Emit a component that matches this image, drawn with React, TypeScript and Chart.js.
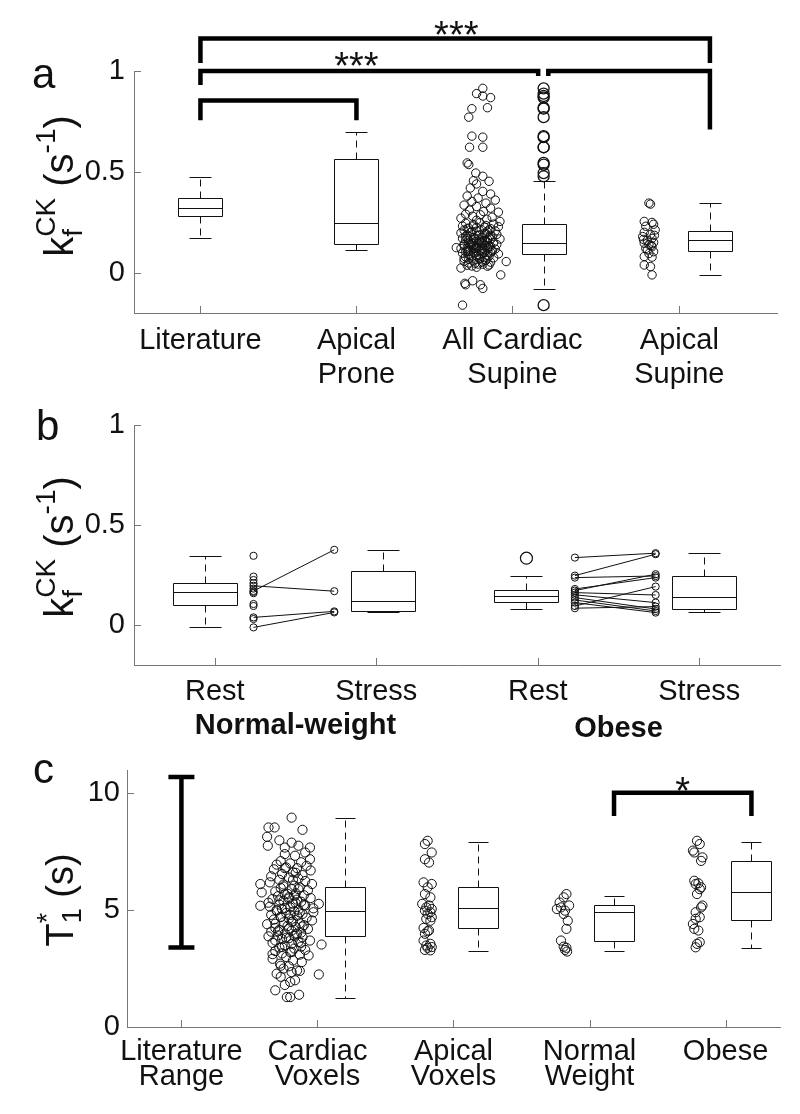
import React, { useEffect, useRef } from "react";
import { Chart, registerables } from "chart.js";

Chart.register(...registerables);

const FONT = "'Liberation Sans', Arial, Helvetica, sans-serif";
const INK = "#111111";
const AXIS = "#777777";

// ================= Panel a =================
const aXTicks = [1, 2, 3, 4.07];
const aXLabels = [["Literature"], ["Apical", "Prone"], ["All Cardiac", "Supine"], ["Apical", "Supine"]];
const aYTicks = [0, 0.5, 1];
const aYLabels = ["0", "0.5", "1"];
// box stats: [lower whisker, Q1, median, Q3, upper whisker]
const aLiteratureBox = [0.174, 0.282, 0.322, 0.368, 0.473];
const aApicalProneBox = [0.111, 0.143, 0.247, 0.562, 0.7];
const aAllCardiacBox = [-0.08, 0.093, 0.146, 0.242, 0.456];
const aApicalSupineBox = [-0.011, 0.108, 0.163, 0.209, 0.345];
const aBoxPositions = [1, 2, 3.2, 4.266];
const aScatterCenters = [2.77, 3.875];
// [jitter, value]
const aAllCardiacPoints: [number, number][] = [
  [0.04, 0.914], [0, 0.888], [0.04, 0.876], [0.09, 0.868], [0.07, 0.818], [-0.03, 0.813], [-0.05, 0.771],
  [-0.03, 0.677], [0.04, 0.672], [-0.045, 0.622], [0.04, 0.622], [-0.06, 0.544], [-0.05, 0.536], [-0.005, 0.494], [0.04, 0.478],
  [-0.02, 0.456], [0.08, 0.453], [0, 0.44], [-0.04, 0.42], [0.04, 0.403], [0.09, 0.39], [-0.06, 0.38], [0.01, 0.37],
  [0.12, 0.36], [-0.03, 0.353], [0.06, 0.345], [-0.08, 0.335], [0, 0.328], [0.09, 0.32], [-0.045, 0.31], [0.045, 0.303],
  [0.14, 0.3], [-0.07, 0.29], [0.025, 0.287], [-0.025, 0.28], [0.1, 0.275], [-0.1, 0.27], [0.065, 0.265], [0, 0.26], [0.15, 0.254],
  [0.02, 0.248], [-0.07, 0.245], [0.11, 0.241], [-0.02, 0.238], [0.06, 0.234], [-0.09, 0.231], [0.14, 0.228], [0, 0.224],
  [-0.05, 0.221], [0.09, 0.218], [0.03, 0.214], [-0.08, 0.211], [0.12, 0.207], [-0.03, 0.204], [0.07, 0.201], [-0.1, 0.197],
  [0.05, 0.194], [0.13, 0.19], [-0.06, 0.187], [0.01, 0.184], [0.1, 0.18], [-0.04, 0.177], [0.08, 0.173], [-0.09, 0.17],
  [0.15, 0.167], [0.02, 0.163], [-0.07, 0.16], [0.06, 0.157], [-0.01, 0.153], [0.11, 0.15], [-0.05, 0.147], [0.04, 0.143],
  [0.13, 0.14], [-0.08, 0.137], [0, 0.134], [0.09, 0.13], [-0.03, 0.127], [0.07, 0.123], [-0.1, 0.12], [0.12, 0.117],
  [0.03, 0.113], [-0.06, 0.11], [0.1, 0.107], [-0.02, 0.103], [0.05, 0.1], [-0.09, 0.097], [0.14, 0.093], [0.01, 0.09],
  [-0.04, 0.086], [0.08, 0.082], [-0.07, 0.078], [0.11, 0.074], [0.02, 0.07], [-0.05, 0.066], [0.06, 0.061], [-0.08, 0.057],
  [0.09, 0.052], [-0.01, 0.047], [0.04, 0.042], [-0.06, 0.037], [0.07, 0.032], [0, 0.027],
  [0.03, 0.15], [-0.04, 0.14], [0.08, 0.13], [-0.01, 0.12], [0.05, 0.16], [-0.06, 0.17], [0.1, 0.11], [0, 0.125],
  [0.06, 0.135], [-0.03, 0.145], [0.02, 0.155], [0.07, 0.165], [-0.05, 0.105], [0.04, 0.095], [-0.02, 0.175], [0.09, 0.185],
  [-0.02, 0.232], [0.05, 0.226], [-0.06, 0.219], [0.08, 0.213], [0, 0.206], [-0.04, 0.199], [0.06, 0.193], [0.02, 0.186],
  [-0.07, 0.181], [0.04, 0.176], [-0.01, 0.171], [0.09, 0.166], [-0.05, 0.161], [0.03, 0.156], [0.07, 0.152], [-0.03, 0.148],
  [0.01, 0.144], [-0.08, 0.141], [0.05, 0.138], [-0.02, 0.133], [0.08, 0.129], [0, 0.126], [-0.06, 0.122], [0.04, 0.118],
  [-0.04, 0.114], [0.06, 0.111], [0.02, 0.108], [-0.07, 0.104], [0.09, 0.101], [-0.01, 0.098], [0.03, 0.094], [-0.05, 0.091],
  [0.07, 0.087], [0, 0.083], [-0.03, 0.079], [0.05, 0.075], [-0.08, 0.071], [0.02, 0.067], [0.06, 0.063], [-0.02, 0.058],
  [0.04, 0.053], [-0.05, 0.048], [0.01, 0.043], [0.08, 0.038], [-0.03, 0.033],
  [-0.13, 0.124], [0.19, 0.055], [0.155, -0.011], [-0.1, 0.023], [-0.075, -0.053], [-0.07, -0.06], [0.025, -0.06],
  [0.04, -0.078], [-0.025, -0.04], [-0.09, -0.161],
];
const aApicalSupinePoints: [number, number][] = [
  [0, 0.345], [0.01, 0.34], [-0.03, 0.254], [0.02, 0.249], [0.03, 0.24], [-0.02, 0.23], [0.04, 0.212], [-0.03, 0.2],
  [0.01, 0.19], [-0.04, 0.179], [0.02, 0.17], [-0.01, 0.16], [0.03, 0.15], [-0.03, 0.146], [0, 0.14], [0.02, 0.129],
  [-0.02, 0.12], [-0.01, 0.113], [0.03, 0.104], [0, 0.095], [-0.03, 0.08], [0.02, 0.077], [-0.03, 0.038], [0.01, 0.03],
  [0.02, -0.011], [0.035, 0.185], [-0.035, 0.165], [0.015, 0.135],
];

// ================= Panel b =================
const bXTicks = [1, 2, 3, 4];
const bXLabels = ["Rest", "Stress", "Rest", "Stress"];
const bGroupLabels = ["Normal-weight", "Obese"];
const bGroupPositions = [1.5, 3.5];
const bYTicks = [0, 0.5, 1];
const bYLabels = ["0", "0.5", "1"];
const bNwRestBox = [-0.012, 0.102, 0.167, 0.212, 0.346];
const bNwStressBox = [0.065, 0.07, 0.12, 0.272, 0.376];
const bObRestBox = [0.08, 0.115, 0.145, 0.177, 0.247];
const bObRestOutliers = [0.334];
const bObStressBox = [0.064, 0.079, 0.142, 0.247, 0.359];
const bBoxPositions = [0.94, 2.04, 2.93, 4.03];
const bPointPositions = [1.24, 1.74, 3.23, 3.73];
const bNwRestSingles = [0.346, 0.242, 0.225, 0.209, 0.182, 0.159, 0.165, 0.105, 0.095, 0.03];
const bNwRestPaired = [0.17, 0.196, 0.038, -0.012];
const bNwStressPaired = [0.376, 0.169, 0.068, 0.063];
const bObRestPaired = [0.337, 0.247, 0.237, 0.18, 0.172, 0.162, 0.151, 0.137, 0.125, 0.112, 0.095, 0.084];
const bObStressPaired = [0.359, 0.354, 0.245, 0.237, 0.254, 0.15, 0.112, 0.08, 0.07, 0.062, 0.192, 0.092];

// ================= Panel c =================
const cXTicks = [1, 2, 3, 4, 5];
const cXLabels = [["Literature", "Range"], ["Cardiac", "Voxels"], ["Apical", "Voxels"], ["Normal", "Weight"], ["Obese"]];
const cYTicks = [0, 5, 10];
const cYLabels = ["0", "5", "10"];
const cLiteratureRange = [3.4, 10.7];
const cCardiacBox = [1.22, 3.9, 4.98, 5.98, 8.94];
const cApicalBox = [3.26, 4.24, 5.1, 6.0, 7.93];
const cNormalBox = [3.26, 3.66, 4.94, 5.21, 5.62];
const cObeseBox = [3.37, 4.6, 5.76, 7.1, 7.93];
const cBoxPositions = [2.2, 3.18, 4.18, 5.19];
const cScatterCenters = [1.79, 2.81, 3.81, 4.79];
const cCardiacPoints: [number, number][] = [
  [0.02, 8.96], [-0.15, 8.54], [-0.105, 8.54], [0.1, 8.44], [-0.16, 8.14], [-0.07, 7.99], [0.02, 7.89], [-0.155, 7.76],
  [0.07, 7.76], [-0.03, 7.68], [0.155, 7.68], [0.12, 7.47], [-0.03, 7.4], [0.045, 7.33], [0.155, 7.18], [-0.06, 7.1],
  [0.09, 7.05], [0.01, 7.0],
  [-0.09, 6.95], [0.13, 6.9], [-0.02, 6.83], [0.06, 6.8], [-0.11, 6.75], [0.16, 6.7], [0.03, 6.62], [-0.05, 6.55],
  [0.1, 6.5], [-0.13, 6.45], [0, 6.4], [0.07, 6.35], [-0.07, 6.3], [0.12, 6.25], [-0.14, 6.19], [-0.21, 6.12],
  [0.17, 6.12], [0.04, 6.05], [-0.04, 6.02],
  [0.08, 5.98], [-0.06, 5.95], [0.02, 5.9], [0.14, 5.85], [-0.1, 5.8], [-0.2, 5.76], [0.05, 5.72], [-0.03, 5.68],
  [0.11, 5.64], [-0.08, 5.6], [0, 5.56], [0.16, 5.52], [-0.12, 5.48], [0.06, 5.45], [-0.04, 5.4], [0.09, 5.36],
  [-0.15, 5.32], [0.03, 5.28], [0.22, 5.27], [-0.07, 5.24], [0.12, 5.2], [-0.21, 5.19], [-0.14, 5.15], [0.01, 5.12],
  [0.18, 5.08], [-0.05, 5.05], [0.07, 5.02],
  [-0.09, 4.98], [0.04, 4.95], [0.18, 4.91], [-0.02, 4.88], [0.1, 4.84], [-0.13, 4.8], [0.06, 4.76], [-0.06, 4.72],
  [0.13, 4.68], [0, 4.64], [-0.11, 4.6], [0.17, 4.56], [0.03, 4.52], [-0.04, 4.48], [0.08, 4.44], [-0.16, 4.4],
  [0.11, 4.36], [-0.01, 4.32], [0.05, 4.28], [-0.1, 4.24], [0.14, 4.2], [-0.07, 4.16], [0.02, 4.12], [-0.13, 4.08],
  [0.09, 4.04], [-0.03, 4.0],
  [0.05, 3.96], [-0.08, 3.92], [-0.15, 3.88], [0.1, 3.84], [0, 3.8], [-0.05, 3.76], [-0.1, 3.7], [0.155, 3.7],
  [0.07, 3.64], [-0.12, 3.6], [0.02, 3.56], [0.24, 3.53], [-0.03, 3.48], [0.09, 3.44], [-0.07, 3.4], [0.04, 3.36],
  [0.12, 3.3], [-0.1, 3.25], [0.01, 3.2], [-0.05, 3.15], [0.08, 3.1], [0.145, 3.06], [-0.02, 3.0],
  [-0.12, 2.92], [0.03, 2.85], [0.095, 2.78], [-0.065, 2.71], [0, 2.6], [-0.04, 2.5], [0.06, 2.42], [0.02, 2.35],
  [-0.09, 2.28], [0.22, 2.25], [-0.06, 2.15], [0.045, 2.0], [0.01, 1.93], [-0.03, 1.8], [-0.1, 1.57], [0.075, 1.38],
  [-0.015, 1.28], [0.01, 1.28],
  [0, 5.5], [0.05, 5.3], [-0.03, 5.1], [0.08, 4.9], [-0.06, 4.7], [0.02, 4.5], [0.1, 4.3], [-0.08, 4.1],
  [0.04, 3.9], [-0.01, 5.7], [0.07, 5.9], [-0.04, 6.1], [0.03, 6.3], [-0.09, 5.0], [0.06, 4.0], [-0.02, 3.82],
  [0.09, 3.6], [-0.05, 3.42], [0.01, 4.8], [0.04, 5.62], [-0.07, 5.42], [0.11, 5.22], [-0.1, 4.42], [0, 4.22],
  [0.05, 6.6], [-0.03, 6.8], [0.02, 3.22], [-0.06, 2.62], [0.08, 2.4], [-0.12, 3.12],
];
const cApicalPoints: [number, number][] = [
  [0, 7.97], [-0.02, 7.83], [0.03, 7.47], [-0.02, 7.18], [0.01, 7.04], [-0.03, 6.19], [0.03, 6.12], [0, 5.98],
  [-0.02, 5.69], [0.02, 5.55], [-0.04, 5.27], [0.01, 5.2], [-0.01, 5.12], [0.03, 5.05], [-0.02, 4.98], [0.02, 4.91],
  [0, 4.84], [0.03, 4.7], [-0.01, 4.63], [0.02, 4.55], [-0.03, 4.24], [0.01, 4.13], [0, 4.1], [-0.02, 3.99],
  [-0.03, 3.7], [0.02, 3.56], [-0.01, 3.49], [0.03, 3.42], [0, 3.39], [-0.02, 3.3], [0.02, 3.28],
];
const cNormalPoints: [number, number][] = [
  [0.02, 5.69], [0, 5.55], [-0.03, 5.33], [0.04, 5.2], [-0.02, 5.12], [-0.05, 5.05], [0.01, 4.98], [0, 4.84],
  [0.03, 4.55], [0.02, 4.2], [-0.02, 3.7], [0, 3.44], [0.02, 3.39], [0.01, 3.3], [0.025, 3.23],
];
const cObesePoints: [number, number][] = [
  [0, 7.97], [0.02, 7.83], [-0.03, 7.55], [-0.02, 7.47], [0.04, 7.26], [0.03, 7.11], [-0.02, 6.26], [0.01, 6.15],
  [-0.01, 6.12], [0.03, 5.98], [0.02, 5.9], [0, 5.69], [0.04, 5.2], [0.03, 5.12], [-0.01, 4.91], [0.02, 4.7],
  [-0.01, 4.63], [-0.03, 4.41], [-0.02, 4.2], [0.01, 4.13], [0.02, 3.63], [0, 3.56], [-0.01, 3.41],
];

// ================= helpers =================
type Part = { n?: string; sub?: string; sup?: string };

function drawVerticalLabel(ctx: CanvasRenderingContext2D, baseX: number, centerY: number, size: number, parts: Part[]) {
  const small = Math.round(size * 0.7);
  const fN = `${size}px ${FONT}`;
  const fS = `${small}px ${FONT}`;
  const widths = parts.map((p) => {
    if (p.n !== undefined) {
      ctx.font = fN;
      return ctx.measureText(p.n).width;
    }
    ctx.font = fS;
    return Math.max(p.sub ? ctx.measureText(p.sub).width : 0, p.sup ? ctx.measureText(p.sup).width : 0);
  });
  const total = widths.reduce((a, b) => a + b, 0);
  ctx.save();
  ctx.translate(baseX, centerY);
  ctx.rotate(-Math.PI / 2);
  ctx.textBaseline = "alphabetic";
  ctx.textAlign = "left";
  ctx.fillStyle = INK;
  let x = -total / 2;
  parts.forEach((p, i) => {
    if (p.n !== undefined) {
      ctx.font = fN;
      ctx.fillText(p.n, x, 0);
    } else {
      ctx.font = fS;
      if (p.sup) ctx.fillText(p.sup, x, -size * 0.45);
      if (p.sub) ctx.fillText(p.sub, x, size * 0.22);
    }
    x += widths[i];
  });
  ctx.restore();
}

function drawCenteredGlyphs(ctx: CanvasRenderingContext2D, text: string, cx: number, cy: number, font: string) {
  ctx.save();
  ctx.font = font;
  ctx.textAlign = "center";
  ctx.textBaseline = "alphabetic";
  ctx.fillStyle = INK;
  const m = ctx.measureText(text);
  const base = cy + (m.actualBoundingBoxAscent - m.actualBoundingBoxDescent) / 2;
  ctx.fillText(text, cx, base);
  ctx.restore();
}

const px = (v: number) => Math.round(v) + 0.5;

function drawBox(ctx: CanvasRenderingContext2D, xs: any, ys: any, xVal: number, s: number[], hw: number) {
  const cx = px(xs.getPixelForValue(xVal));
  const [lo, q1, med, q3, hi] = s.map((v) => px(ys.getPixelForValue(v)));
  ctx.save();
  ctx.strokeStyle = INK;
  ctx.lineWidth = 1;
  ctx.setLineDash([7, 5]);
  ctx.beginPath();
  ctx.moveTo(cx, q3);
  ctx.lineTo(cx, hi);
  ctx.moveTo(cx, q1);
  ctx.lineTo(cx, lo);
  ctx.stroke();
  ctx.setLineDash([]);
  ctx.beginPath();
  ctx.rect(cx - hw, q3, 2 * hw, q1 - q3);
  ctx.moveTo(cx - hw, med);
  ctx.lineTo(cx + hw, med);
  ctx.moveTo(cx - hw / 2, hi);
  ctx.lineTo(cx + hw / 2, hi);
  ctx.moveTo(cx - hw / 2, lo);
  ctx.lineTo(cx + hw / 2, lo);
  ctx.stroke();
  ctx.restore();
}

type Bracket = { x1: number; x2: number; y: number; e1: number; e2: number };
type Stars = { text: string; x: number; y: number; lift: number };

function drawBracket(ctx: CanvasRenderingContext2D, xs: any, ys: any, b: Bracket) {
  ctx.save();
  ctx.strokeStyle = "#000";
  ctx.lineWidth = 4.5;
  ctx.lineJoin = "miter";
  ctx.lineCap = "butt";
  ctx.beginPath();
  ctx.moveTo(xs.getPixelForValue(b.x1), ys.getPixelForValue(b.e1));
  ctx.lineTo(xs.getPixelForValue(b.x1), ys.getPixelForValue(b.y));
  ctx.lineTo(xs.getPixelForValue(b.x2), ys.getPixelForValue(b.y));
  ctx.lineTo(xs.getPixelForValue(b.x2), ys.getPixelForValue(b.e2));
  ctx.stroke();
  ctx.restore();
}

type Spec = {
  height: number;
  padding: { top: number; right: number; left: number; bottom: number };
  xMin: number; xMax: number; yMin: number; yMax: number;
  xTicks: number[]; xLabels: any[]; yTicks: number[]; yLabels: string[];
  xH: number; yW: number; xPad: number; yPad: number; xLineHeight: number;
  datasets: any[];
  boxes: { x: number; s: number[] }[];
  boxHalf: number;
  brackets: Bracket[];
  stars: Stars[];
  rangeBars: { x: number; lo: number; hi: number }[];
  letter: { t: string; x: number; y: number };
  yLabel: { parts: Part[]; baseX: number; centerY: number; size: number };
  groups?: { labels: string[]; positions: number[]; dy: number };
};

const FS = 29;

function buildConfig(sp: Spec): any {
  const extras = {
    id: "extras",
    beforeDatasetsDraw(chart: any) {
      const { ctx, chartArea: a } = chart;
      const xs = chart.scales.x;
      const ys = chart.scales.y;
      ctx.save();
      ctx.strokeStyle = AXIS;
      ctx.lineWidth = 1;
      ctx.beginPath();
      for (const t of xs.ticks) {
        const p = px(xs.getPixelForValue(t.value));
        ctx.moveTo(p, a.bottom);
        ctx.lineTo(p, a.bottom - 7);
      }
      for (const t of ys.ticks) {
        const p = px(ys.getPixelForValue(t.value));
        ctx.moveTo(a.left, p);
        ctx.lineTo(a.left + 7, p);
      }
      ctx.stroke();
      ctx.restore();
      for (const b of sp.boxes) drawBox(ctx, xs, ys, b.x, b.s, sp.boxHalf);
      for (const r of sp.rangeBars) {
        const cx = xs.getPixelForValue(r.x);
        const y1 = ys.getPixelForValue(r.lo);
        const y2 = ys.getPixelForValue(r.hi);
        ctx.save();
        ctx.strokeStyle = "#000";
        ctx.lineWidth = 4.5;
        ctx.beginPath();
        ctx.moveTo(cx, y1);
        ctx.lineTo(cx, y2);
        ctx.moveTo(cx - 13, y1);
        ctx.lineTo(cx + 13, y1);
        ctx.moveTo(cx - 13, y2);
        ctx.lineTo(cx + 13, y2);
        ctx.stroke();
        ctx.restore();
      }
    },
    afterDatasetsDraw(chart: any) {
      const { ctx } = chart;
      const xs = chart.scales.x;
      const ys = chart.scales.y;
      for (const b of sp.brackets) drawBracket(ctx, xs, ys, b);
      for (const s of sp.stars) {
        drawCenteredGlyphs(ctx, s.text, xs.getPixelForValue(s.x), ys.getPixelForValue(s.y) - s.lift, `38px ${FONT}`);
      }
    },
    afterDraw(chart: any) {
      const { ctx, chartArea: a } = chart;
      const xs = chart.scales.x;
      ctx.save();
      ctx.fillStyle = INK;
      ctx.font = `42px ${FONT}`;
      ctx.textAlign = "left";
      ctx.textBaseline = "alphabetic";
      ctx.fillText(sp.letter.t, sp.letter.x, sp.letter.y);
      ctx.restore();
      drawVerticalLabel(ctx, sp.yLabel.baseX, sp.yLabel.centerY, sp.yLabel.size, sp.yLabel.parts);
      if (sp.groups) {
        sp.groups.labels.forEach((g, i) => {
          drawCenteredGlyphs(ctx, g, xs.getPixelForValue(sp.groups!.positions[i]), a.bottom + sp.groups!.dy, `bold ${FS}px ${FONT}`);
        });
      }
    },
  };

  return {
    type: "scatter",
    data: { datasets: sp.datasets },
    plugins: [extras],
    options: {
      responsive: false,
      maintainAspectRatio: false,
      animation: false,
      devicePixelRatio: 1,
      events: [],
      layout: { padding: sp.padding, autoPadding: false },
      plugins: { legend: { display: false }, tooltip: { enabled: false }, title: { display: false } },
      scales: {
        x: {
          type: "linear",
          min: sp.xMin,
          max: sp.xMax,
          grid: { display: false, drawTicks: false },
          border: { display: true, color: AXIS, width: 1 },
          ticks: {
            autoSkip: false,
            maxRotation: 0,
            minRotation: 0,
            padding: sp.xPad,
            color: INK,
            font: { family: FONT, size: FS, lineHeight: sp.xLineHeight },
            callback: (_v: any, i: number) => sp.xLabels[i],
          },
          afterBuildTicks: (s: any) => {
            s.ticks = sp.xTicks.map((v) => ({ value: v }));
          },
          afterFit: (s: any) => {
            s.height = sp.xH;
            s.paddingLeft = 0;
            s.paddingRight = 0;
          },
        },
        y: {
          type: "linear",
          min: sp.yMin,
          max: sp.yMax,
          grid: { display: false, drawTicks: false },
          border: { display: true, color: AXIS, width: 1 },
          ticks: {
            padding: sp.yPad,
            color: INK,
            font: { family: FONT, size: FS },
            callback: (_v: any, i: number) => sp.yLabels[i],
          },
          afterBuildTicks: (s: any) => {
            s.ticks = sp.yTicks.map((v) => ({ value: v }));
          },
          afterFit: (s: any) => {
            s.width = sp.yW;
            s.paddingTop = 0;
            s.paddingBottom = 0;
          },
        },
      },
    },
  };
}

const circle = (data: { x: number; y: number }[], r: number, bw = 1) => ({
  data,
  showLine: false,
  pointStyle: "circle",
  pointRadius: r,
  pointBorderWidth: bw,
  pointBorderColor: INK,
  pointBackgroundColor: "rgba(0,0,0,0)",
  clip: false,
});

const jittered = (pts: [number, number][], center: number) => pts.map(([j, v]) => ({ x: center + j, y: v }));
const outliers = (pts: [number, number][], s: number[], xPos: number) =>
  pts.filter(([, v]) => v > s[4] || v < s[0]).map(([, v]) => ({ x: xPos, y: v }));

const kLabel: Part[] = [{ n: "k" }, { sub: "f", sup: "CK" }, { n: " (s" }, { sup: "-1" }, { n: ")" }];
const tLabel: Part[] = [{ n: "T" }, { sub: "1", sup: "*" }, { n: " (s)" }];

function specA(): Spec {
  return {
    height: 390,
    padding: { top: 71, right: 23, left: 0, bottom: 0 },
    xMin: 0.574, xMax: 4.696, yMin: -0.2, yMax: 1,
    xTicks: aXTicks, xLabels: aXLabels, yTicks: aYTicks, yLabels: aYLabels,
    xH: 77, yW: 134, xPad: 11, yPad: 9, xLineHeight: 1.17,
    datasets: [
      circle(jittered(aAllCardiacPoints, aScatterCenters[0]), 4.2),
      circle(jittered(aApicalSupinePoints, aScatterCenters[1]), 4.2),
      circle(outliers(aAllCardiacPoints, aAllCardiacBox, aBoxPositions[2]), 5.5, 1.3),
    ],
    boxes: [
      { x: aBoxPositions[0], s: aLiteratureBox },
      { x: aBoxPositions[1], s: aApicalProneBox },
      { x: aBoxPositions[2], s: aAllCardiacBox },
      { x: aBoxPositions[3], s: aApicalSupineBox },
    ],
    boxHalf: 22,
    brackets: [
      { x1: 1, x2: 2, y: 0.854, e1: 0.756, e2: 0.756 },
      { x1: 1, x2: 3.165, y: 1.0, e1: 0.93, e2: 0.975 },
      { x1: 3.23, x2: 4.266, y: 1.0, e1: 0.975, e2: 0.71 },
      { x1: 1, x2: 4.266, y: 1.161, e1: 1.04, e2: 1.04 },
    ],
    stars: [
      { text: "***", x: 2.0, y: 1.0, lift: 12 },
      { text: "***", x: 2.64, y: 1.161, lift: 11 },
    ],
    rangeBars: [],
    letter: { t: "a", x: 32, y: 88 },
    yLabel: { parts: kLabel, baseX: 73, centerY: 186, size: 40 },
  };
}

function specB(): Spec {
  const pairLine = (r: number, s: number, p1: number, p2: number) => ({
    data: [{ x: p1, y: r }, { x: p2, y: s }],
    showLine: true,
    borderColor: INK,
    borderWidth: 1,
    pointStyle: "circle",
    pointRadius: 3.6,
    pointBorderWidth: 1,
    pointBorderColor: INK,
    pointBackgroundColor: "rgba(0,0,0,0)",
    clip: false,
  });
  return {
    height: 355,
    padding: { top: 35, right: 20, left: 0, bottom: 0 },
    xMin: 0.5, xMax: 4.5, yMin: -0.2, yMax: 1,
    xTicks: bXTicks, xLabels: bXLabels, yTicks: bYTicks, yLabels: bYLabels,
    xH: 80, yW: 134, xPad: 10, yPad: 9, xLineHeight: 1.17,
    datasets: [
      circle(bNwRestSingles.map((v) => ({ x: bPointPositions[0], y: v })), 3.6),
      ...bNwRestPaired.map((r, i) => pairLine(r, bNwStressPaired[i], bPointPositions[0], bPointPositions[1])),
      ...bObRestPaired.map((r, i) => pairLine(r, bObStressPaired[i], bPointPositions[2], bPointPositions[3])),
      circle(bObRestOutliers.map((v) => ({ x: bBoxPositions[2], y: v })), 6, 1.2),
    ],
    boxes: [
      { x: bBoxPositions[0], s: bNwRestBox },
      { x: bBoxPositions[1], s: bNwStressBox },
      { x: bBoxPositions[2], s: bObRestBox },
      { x: bBoxPositions[3], s: bObStressBox },
    ],
    boxHalf: 32,
    brackets: [],
    stars: [],
    rangeBars: [],
    letter: { t: "b", x: 36, y: 50 },
    yLabel: { parts: kLabel, baseX: 73, centerY: 157, size: 40 },
    groups: { labels: bGroupLabels, positions: bGroupPositions, dy: 61 },
  };
}

function specC(): Spec {
  return {
    height: 369,
    padding: { top: 25, right: 20, left: 0, bottom: 0 },
    xMin: 0.6, xMax: 5.4, yMin: 0, yMax: 11,
    xTicks: cXTicks, xLabels: cXLabels, yTicks: cYTicks, yLabels: cYLabels,
    xH: 87, yW: 127, xPad: 13, yPad: 7, xLineHeight: 0.85,
    datasets: [
      circle(jittered(cCardiacPoints, cScatterCenters[0]), 4.6),
      circle(jittered(cApicalPoints, cScatterCenters[1]), 4.6),
      circle(jittered(cNormalPoints, cScatterCenters[2]), 4.6),
      circle(jittered(cObesePoints, cScatterCenters[3]), 4.6),
    ],
    boxes: [
      { x: cBoxPositions[0], s: cCardiacBox },
      { x: cBoxPositions[1], s: cApicalBox },
      { x: cBoxPositions[2], s: cNormalBox },
      { x: cBoxPositions[3], s: cObeseBox },
    ],
    boxHalf: 20,
    brackets: [{ x1: 4.18, x2: 5.19, y: 10.03, e1: 9.03, e2: 9.03 }],
    stars: [{ text: "*", x: 4.685, y: 10.03, lift: 9 }],
    rangeBars: [{ x: 1, lo: cLiteratureRange[0], hi: cLiteratureRange[1] }],
    letter: { t: "c", x: 33, y: 38 },
    yLabel: { parts: tLabel, baseX: 73, centerY: 155, size: 38 },
  };
}

function Panel({ top, spec }: { top: number; spec: () => Spec }) {
  const ref = useRef<HTMLCanvasElement>(null);
  const sp = spec();
  useEffect(() => {
    const chart = new Chart(ref.current as HTMLCanvasElement, buildConfig(spec()));
    return () => chart.destroy();
  }, []);
  return (
    <canvas
      ref={ref}
      width={800}
      height={sp.height}
      style={{ position: "absolute", left: 0, top, width: 800, height: sp.height, display: "block" }}
    />
  );
}

export default function App() {
  return (
    <div style={{ position: "absolute", left: 0, top: 0, width: 800, height: 1114, background: "#fff" }}>
      <Panel top={0} spec={specA} />
      <Panel top={390} spec={specB} />
      <Panel top={745} spec={specC} />
    </div>
  );
}
